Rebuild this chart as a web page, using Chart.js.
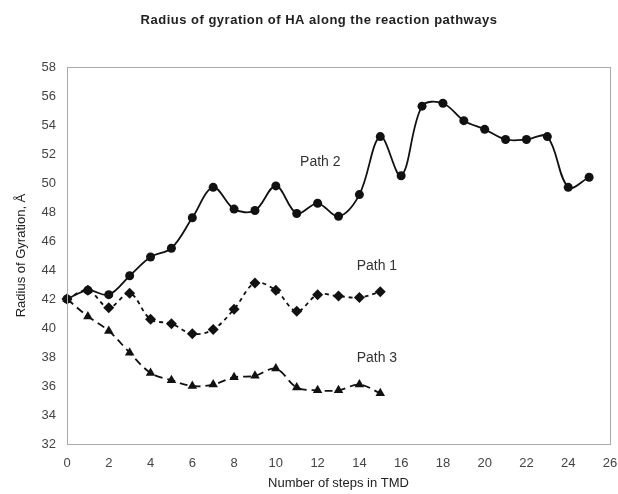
<!DOCTYPE html>
<html>
<head>
<meta charset="utf-8">
<script src="https://cdn.jsdelivr.net/npm/chart.js@4"></script>
<style>
  html, body { margin: 0; padding: 0; background: #fff; }
  #wrap { width: 618px; height: 494px; }
</style>
</head>
<body>
<div id="wrap"><canvas id="myChart" width="618" height="494"></canvas></div>
<script>
// steps along TMD
var steps = [0, 1, 2, 3, 4, 5, 6, 7, 8, 9, 10, 11, 12, 13, 14, 15, 16, 17, 18, 19, 20, 21, 22, 23, 24, 25];

var path1 = [42.0, 42.6, 41.4, 42.4, 40.6, 40.3, 39.6, 39.9, 41.3, 43.1, 42.6, 41.15, 42.3, 42.2, 42.1, 42.5];
var path2 = [42.0, 42.6, 42.3, 43.6, 44.9, 45.5, 47.6, 49.7, 48.2, 48.1, 49.8, 47.9, 48.6, 47.7, 49.2, 53.2,
             50.5, 55.3, 55.5, 54.3, 53.7, 53.0, 53.0, 53.2, 49.7, 50.4];
var path3 = [42.0, 40.8, 39.8, 38.3, 36.9, 36.4, 36.0, 36.1, 36.6, 36.7, 37.2, 35.9, 35.7, 35.7, 36.1, 35.5];

var xTicks = [0, 2, 4, 6, 8, 10, 12, 14, 16, 18, 20, 22, 24, 26];
var yTicks = [32, 34, 36, 38, 40, 42, 44, 46, 48, 50, 52, 54, 56, 58];

var titleText = 'Radius of gyration of HA along the reaction pathways';

// labels next to the curves (data coords)
var pathLabels = ['Path 2', 'Path 1', 'Path 3'];
var labelX = [11.16, 13.87, 13.87];
var labelY = [51.45, 44.3, 37.9];

var FONT = '"Liberation Sans", Arial, sans-serif';

function pts(vals) {
    return vals.map(function (v, i) { return { x: steps[i], y: v }; });
}

var boxAndLabels = {
    id: 'boxAndLabels',
    afterDraw: function (chart) {
        var ctx = chart.ctx, a = chart.chartArea;
        ctx.save();
        ctx.strokeStyle = '#aaaaaa';
        ctx.lineWidth = 1;
        ctx.strokeRect(Math.round(a.left) + 0.5, Math.round(a.top) + 0.5,
            Math.round(a.right - a.left), Math.round(a.bottom - a.top));

        // title
        ctx.fillStyle = '#222';
        ctx.font = 'bold 13px ' + FONT;
        ctx.letterSpacing = '0.5px';
        ctx.textAlign = 'center';
        ctx.textBaseline = 'middle';
        ctx.fillText(titleText, 319, 20);
        ctx.letterSpacing = '0px';

        ctx.fillStyle = '#333';
        ctx.font = '14px ' + FONT;
        ctx.textAlign = 'left';
        for (var i = 0; i < pathLabels.length; i++) {
            ctx.fillText(pathLabels[i], chart.scales.x.getPixelForValue(labelX[i]),
                chart.scales.y.getPixelForValue(labelY[i]));
        }
        ctx.restore();
    }
};

var ctx = document.getElementById('myChart').getContext('2d');

var chart = new Chart(ctx, {
    type: 'line',
    data: {
        datasets: [{
            label: 'Path 2',
            data: pts(path2),
            borderColor: '#111',
            backgroundColor: '#111',
            borderWidth: 1.8,
            tension: 0.35,
            clip: false,
            pointStyle: 'circle',
            pointRadius: 4.5,
            pointBorderWidth: 0
        }, {
            label: 'Path 1',
            data: pts(path1),
            borderColor: '#111',
            backgroundColor: '#111',
            borderWidth: 1.8,
            borderDash: [4, 4],
            tension: 0.35,
            clip: false,
            pointStyle: 'rectRot',
            pointRadius: 5.5,
            pointBorderWidth: 0
        }, {
            label: 'Path 3',
            data: pts(path3),
            borderColor: '#111',
            backgroundColor: '#111',
            borderWidth: 1.8,
            borderDash: [8, 5],
            tension: 0.35,
            clip: false,
            pointStyle: 'triangle',
            pointRadius: 5.5,
            pointBorderWidth: 0
        }]
    },
    options: {
        responsive: false,
        animation: false,
        layout: { padding: { left: 0, right: 8, top: 67, bottom: 0 } },
        plugins: {
            legend: { display: false },
            tooltip: { enabled: false },
            title: { display: false }
        },
        scales: {
            x: {
                type: 'linear',
                min: 0,
                max: 26,
                afterBuildTicks: function (s) { s.ticks = xTicks.map(function (v) { return { value: v }; }); },
                afterFit: function (s) { s.height = 50; s.paddingLeft = 0; s.paddingRight = 0; },
                grid: { display: false, drawTicks: false },
                border: { display: false },
                ticks: {
                    color: '#444',
                    padding: 12,
                    maxRotation: 0,
                    font: { family: FONT, size: 13 }
                },
                title: {
                    display: true,
                    text: 'Number of steps in TMD',
                    color: '#222',
                    padding: { top: 0, bottom: 3 },
                    font: { family: FONT, size: 13 }
                }
            },
            y: {
                min: 32,
                max: 58,
                afterBuildTicks: function (s) { s.ticks = yTicks.map(function (v) { return { value: v }; }); },
                afterFit: function (s) { s.width = 67; s.paddingTop = 0; s.paddingBottom = 0; },
                grid: { display: false, drawTicks: false },
                border: { display: false },
                ticks: {
                    color: '#444',
                    padding: 11,
                    font: { family: FONT, size: 13 }
                },
                title: {
                    display: true,
                    text: 'Radius of Gyration, Å',
                    color: '#222',
                    padding: { top: 14, bottom: 0 },
                    font: { family: FONT, size: 13 }
                }
            }
        }
    },
    plugins: [boxAndLabels]
});
</script>
</body>
</html>
